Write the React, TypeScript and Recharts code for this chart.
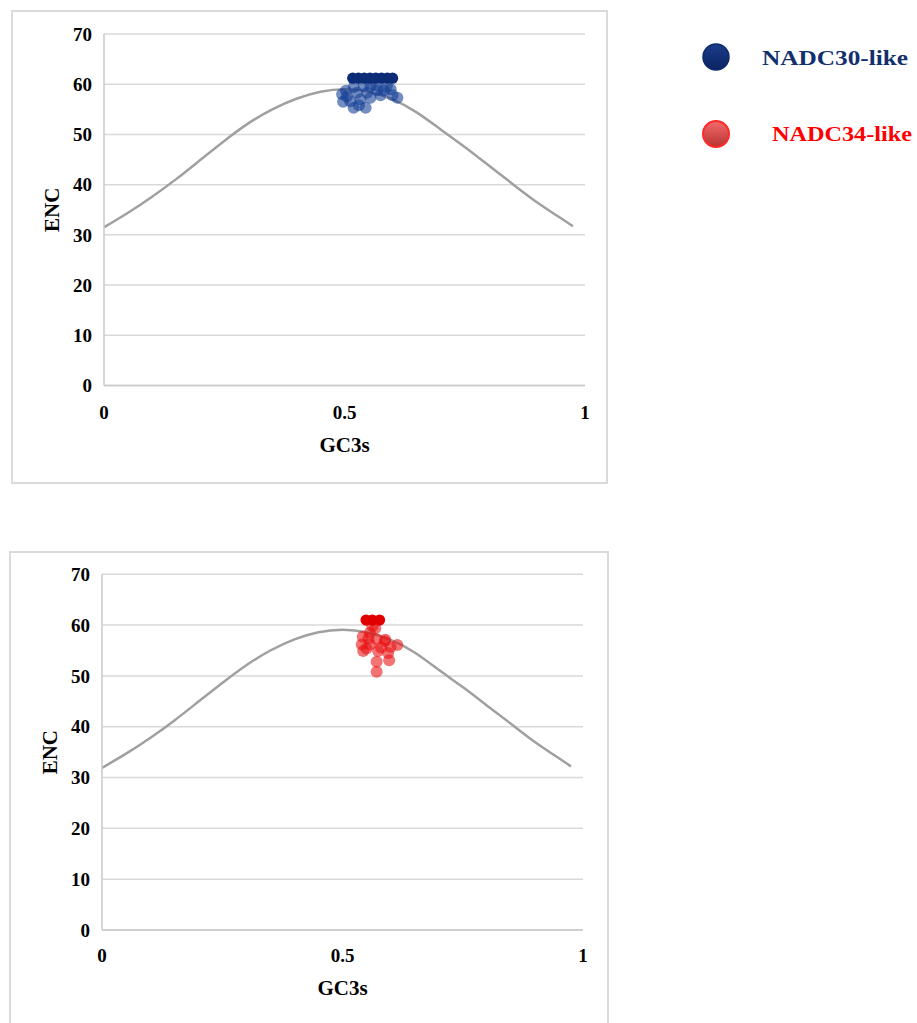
import type { FC, ReactNode } from 'react'
import { ComposedChart, Line, Scatter, XAxis, YAxis, CartesianGrid } from 'recharts'

const gc3sTicks = [0, 0.5, 1]
const encTicks = [0, 10, 20, 30, 40, 50, 60, 70]

// expected-ENC curve
const curveGc3s = [
    0, 0.05, 0.1, 0.15, 0.2, 0.25, 0.3, 0.35, 0.4, 0.45, 0.5, 0.55, 0.6, 0.65,
    0.7, 0.75, 0.8, 0.85, 0.9, 0.95, 0.975
]
const curveEncTop = [
    31.5, 34.4, 37.6, 41.1, 44.9, 48.7, 52.2, 55.0, 57.1, 58.5, 59.0, 58.5,
    57.0, 54.4, 51.0, 47.5, 43.8, 40.1, 36.5, 33.3, 31.7
]
const curveEncBottom = [
    31.9, 34.7, 37.8, 41.2, 44.9, 48.6, 52.1, 55.0, 57.2, 58.6, 59.1, 58.6,
    57.1, 54.6, 51.2, 47.8, 44.2, 40.6, 37.0, 33.8, 32.2
]

// [GC3s, ENC]
const nadc30Dense: [number, number][] = [
    [0.517, 61.2], [0.529, 61.2], [0.541, 61.2], [0.553, 61.2],
    [0.565, 61.2], [0.577, 61.2], [0.589, 61.2], [0.6, 61.2]
]
const nadc30Points: [number, number][] = [
    [0.495, 58.0], [0.497, 56.5], [0.503, 58.7], [0.505, 57.5],
    [0.512, 56.6], [0.519, 55.3], [0.519, 59.4], [0.526, 58.3],
    [0.533, 57.0], [0.54, 59.7], [0.544, 55.3], [0.547, 58.3],
    [0.554, 57.3], [0.554, 59.6], [0.568, 58.8], [0.575, 57.8],
    [0.582, 58.8], [0.596, 59.0], [0.6, 57.8], [0.61, 57.3],
    [0.53, 55.8], [0.565, 59.8], [0.588, 59.6]
]
const nadc34Dense: [number, number][] = [
    [0.549, 61.0], [0.562, 61.0], [0.577, 61.0]
]
const nadc34Points: [number, number][] = [
    [0.542, 57.7], [0.54, 56.2], [0.543, 54.9], [0.55, 55.4],
    [0.554, 57.4], [0.557, 58.5], [0.557, 56.2], [0.568, 59.4],
    [0.571, 57.2], [0.574, 54.9], [0.571, 52.8], [0.571, 50.8],
    [0.588, 56.8], [0.589, 57.1], [0.6, 55.7], [0.595, 54.5],
    [0.597, 53.1], [0.614, 56.1], [0.562, 59.8], [0.58, 55.6]
]

const FONT = '"Liberation Serif", "Times New Roman", serif'
const TICK = { fontSize: 19, fontWeight: 700, fill: '#000', fontFamily: FONT }
const AXIS_LABEL = { fontSize: 21, fontWeight: 700, fill: '#000', fontFamily: FONT }

const toRows = (pts: [number, number][]) => pts.map(([s, enc]) => ({ s, enc }))

interface PanelProps {
    curve: number[]
    dense: [number, number][]
    points: [number, number][]
    color: string
    denseColor: string
    top: number
    height: number
    xTickMargin: number
    xLabelOffset: number
}

const EncPanel: FC<PanelProps> = ({
    curve,
    dense,
    points,
    color,
    denseColor,
    top,
    height,
    xTickMargin,
    xLabelOffset
}): ReactNode => {
    const curveRows = curveGc3s.map((s, i) => ({ s, enc: curve[i] }))
    return (
        <ComposedChart
            width={610}
            height={490}
            margin={{ top, right: 25, left: 0, bottom: 490 - top - height - 66 }}
        >
            <CartesianGrid vertical={false} stroke='#d9d9d9' strokeWidth={1.5} />
            <XAxis
                type='number'
                dataKey='s'
                domain={[0, 1]}
                ticks={gc3sTicks}
                allowDataOverflow
                height={66}
                tickLine={false}
                tickSize={0}
                tickMargin={xTickMargin}
                tick={TICK}
                axisLine={{ stroke: '#c8c8c8', strokeWidth: 1.5 }}
                label={{
                    value: 'GC3s',
                    position: 'insideBottom',
                    offset: xLabelOffset,
                    style: AXIS_LABEL
                }}
            />
            <YAxis
                type='number'
                domain={[0, 70]}
                ticks={encTicks}
                width={104}
                tickLine={false}
                tickSize={0}
                tickMargin={12}
                tick={TICK}
                axisLine={{ stroke: '#c8c8c8', strokeWidth: 1.5 }}
                label={{
                    value: 'ENC',
                    angle: -90,
                    position: 'center',
                    style: AXIS_LABEL
                }}
            />
            <Line
                data={curveRows}
                dataKey='enc'
                type='natural'
                stroke='#a0a0a0'
                strokeWidth={2.5}
                dot={false}
                activeDot={false}
                isAnimationActive={false}
            />
            <Scatter
                data={toRows(points)}
                dataKey='enc'
                isAnimationActive={false}
                shape={(p: any) => (
                    <circle cx={p.cx} cy={p.cy} r={6} fill={color} fillOpacity={0.58} />
                )}
            />
            <Scatter
                data={toRows(dense)}
                dataKey='enc'
                isAnimationActive={false}
                shape={(p: any) => (
                    <circle cx={p.cx} cy={p.cy} r={5.6} fill={denseColor} />
                )}
            />
        </ComposedChart>
    )
}

const Legend: FC = (): ReactNode => (
    <svg width={240} height={160} style={{ position: 'absolute', left: 680, top: 20 }}>
        <defs>
            <linearGradient id='navyGrad' x1='0' y1='0' x2='0' y2='1'>
                <stop offset='0%' stopColor='#1a3c8a' />
                <stop offset='100%' stopColor='#0b2462' />
            </linearGradient>
            <linearGradient id='redGrad' x1='0' y1='0' x2='0' y2='1'>
                <stop offset='0%' stopColor='#f46a6a' />
                <stop offset='100%' stopColor='#b83434' />
            </linearGradient>
        </defs>
        <circle cx={36} cy={37} r={13} fill='url(#navyGrad)' stroke='#0d2b6e' strokeWidth={1.5} />
        <text
            x={82}
            y={45}
            textLength={146}
            lengthAdjust='spacingAndGlyphs'
            style={{ fontSize: 21, fontWeight: 700, fill: '#12306f', fontFamily: FONT }}
        >
            NADC30-like
        </text>
        <circle cx={36} cy={114} r={13} fill='url(#redGrad)' stroke='#ff2a2a' strokeWidth={2} />
        <text
            x={92}
            y={121}
            textLength={140}
            lengthAdjust='spacingAndGlyphs'
            style={{ fontSize: 21, fontWeight: 700, fill: '#ff0000', fontFamily: FONT }}
        >
            NADC34-like
        </text>
    </svg>
)

const App: FC = (): ReactNode => {
    return (
        <div
            style={{
                position: 'absolute',
                left: 0,
                top: 0,
                width: 917,
                height: 1023,
                overflow: 'hidden',
                background: '#fff'
            }}
        >
            <div
                style={{
                    position: 'absolute',
                    left: 11,
                    top: 10,
                    width: 593,
                    height: 470,
                    border: '2px solid #dadada'
                }}
            />
            <div
                style={{
                    position: 'absolute',
                    left: 9,
                    top: 551,
                    width: 596,
                    height: 520,
                    border: '2px solid #dadada'
                }}
            />
            <div style={{ position: 'absolute', left: 0, top: 0 }}>
                <EncPanel
                    curve={curveEncTop}
                    dense={nadc30Dense}
                    points={nadc30Points}
                    color='#123d94'
                    denseColor='#0d2c78'
                    top={34}
                    height={351.5}
                    xTickMargin={20.5}
                    xLabelOffset={0}
                />
            </div>
            <div style={{ position: 'absolute', left: -2, top: 540 }}>
                <EncPanel
                    curve={curveEncBottom}
                    dense={nadc34Dense}
                    points={nadc34Points}
                    color='#e81010'
                    denseColor='#e00000'
                    top={34.3}
                    height={355.7}
                    xTickMargin={19}
                    xLabelOffset={1.5}
                />
            </div>
            <Legend />
        </div>
    )
}

export default App
